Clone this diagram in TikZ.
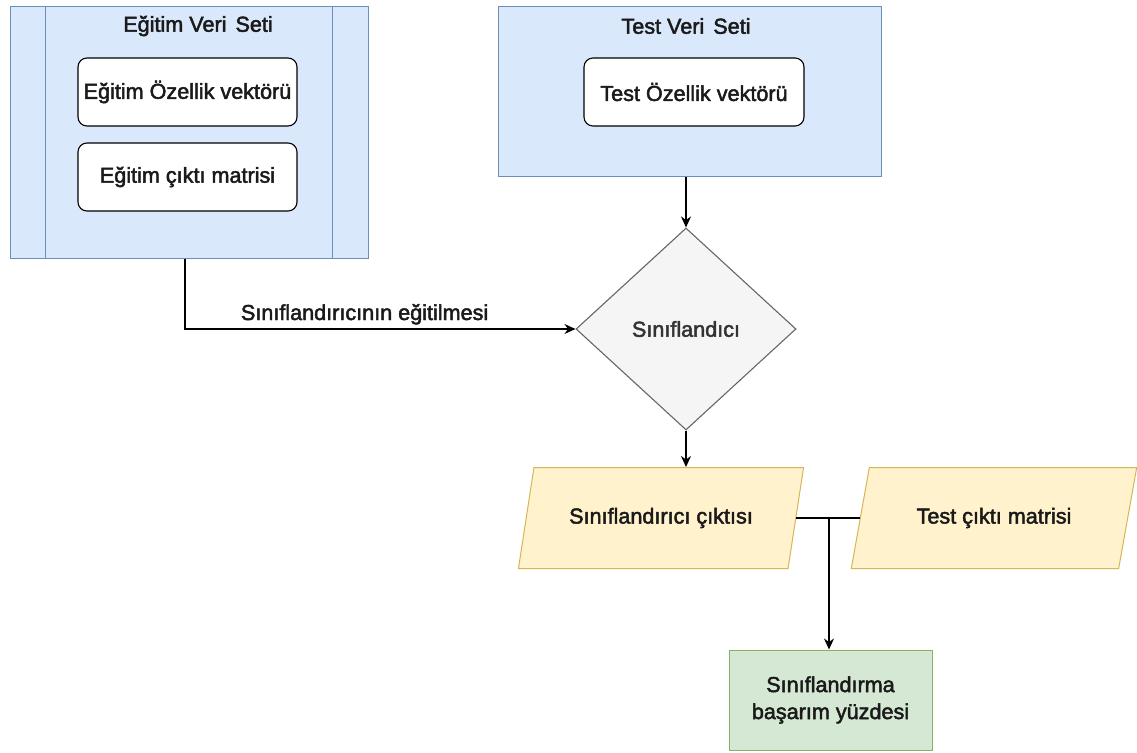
\documentclass[tikz,border=0pt]{standalone}
\usepackage{fontspec}
\setmainfont{Liberation Sans}[Ligatures=CommonOff,FakeBold=2.2]
\usetikzlibrary{shapes.geometric,arrows.meta}
\definecolor{blueF}{HTML}{DAE8FC}
\definecolor{blueD}{HTML}{6C8EBF}
\definecolor{greyF}{HTML}{F5F5F5}
\definecolor{greyD}{HTML}{666666}
\definecolor{yelF}{HTML}{FFF2CC}
\definecolor{yelD}{HTML}{D6B656}
\definecolor{grnF}{HTML}{D5E8D4}
\definecolor{grnD}{HTML}{82B366}
\definecolor{txt}{HTML}{1A1A1A}
\tikzset{
  lbl/.style={font=\fontsize{21.6}{27}\selectfont, text=txt},
  datasetbox/.style={draw=blueD, fill=blueF, line width=1pt, inner sep=0pt},
  itembox/.style={draw=black, fill=white, rounded corners=9pt, line width=1.1pt,
    minimum width=219pt, minimum height=68pt, inner sep=0pt, lbl},
  decisionbox/.style={diamond, draw=greyD, fill=greyF, line width=1.1pt,
    minimum width=220pt, minimum height=202pt, inner sep=0pt, lbl, text=black!80},
  iobox/.style={trapezium, trapezium left angle=61, trapezium right angle=119,
    trapezium stretches=true, draw=yelD, fill=yelF, line width=1pt,
    minimum width=286pt, minimum height=101pt, inner sep=0pt, lbl},
  resultbox/.style={draw=grnD, fill=grnF, line width=1pt,
    minimum width=203pt, minimum height=100pt, inner sep=0pt, lbl, align=center},
  conn/.style={draw=black, line width=1.2pt},
  arr/.style={conn, -{Stealth[length=11pt,width=10pt]}}
}
\begin{document}
\begin{tikzpicture}[x=1pt,y=-1pt]
\useasboundingbox (0,0) rectangle (1137,752);
\fill[white] (0,0) rectangle (1137,752);

% training set (process shape with side bars)
\node[datasetbox, minimum width=358pt, minimum height=251pt] (train) at (189,132.5) {};
\draw[draw=blueD, line width=1pt] ([xshift=36pt]train.north west) -- ([xshift=36pt]train.south west);
\draw[draw=blueD, line width=1pt] ([xshift=-36pt]train.north east) -- ([xshift=-36pt]train.south east);
\node[lbl] (traintitle) at (198,26) {Eğitim Veri\hspace{3pt} Seti};
\node[itembox] (trainfeat) at (187.5,92) {Eğitim Özellik vektörü};
\node[itembox] (trainout) at (187.5,177) {Eğitim çıktı matrisi};

% test set
\node[datasetbox, minimum width=383pt, minimum height=169pt] (test) at (689.5,91.5) {};
\node[lbl] (testtitle) at (686,26) {Test Veri\hspace{3pt} Seti};
\node[itembox, minimum width=220pt] (testfeat) at (694,92) {Test Özellik vektörü};

% classifier
\node[decisionbox] (clf) at (686,329) {Sınıflandıcı};

% outputs
\node[iobox] (clfout) at (661,518) {Sınıflandırıcı çıktısı};
\node[iobox] (testout) at (994,518) {Test çıktı matrisi};

% result
\node[resultbox] (score) at (830.5,700) {Sınıflandırma\\başarım yüzdesi};

% connectors
\draw[arr] ([xshift=-4pt]train.south) |- node[pos=0.73, anchor=base, yshift=9pt, lbl] (trainlbl) {Sınıflandırıcının eğitilmesi} (clf.west);
\draw[arr] (test.south -| clf.north) -- (clf.north);
\draw[arr] (clf.south) -- (clf.south |- clfout.north);
\coordinate (join) at (829,518);
\draw[conn] (clfout.right side) -- (testout.left side);
\draw[arr] (join) -- (join |- score.north);
\end{tikzpicture}
\end{document}
